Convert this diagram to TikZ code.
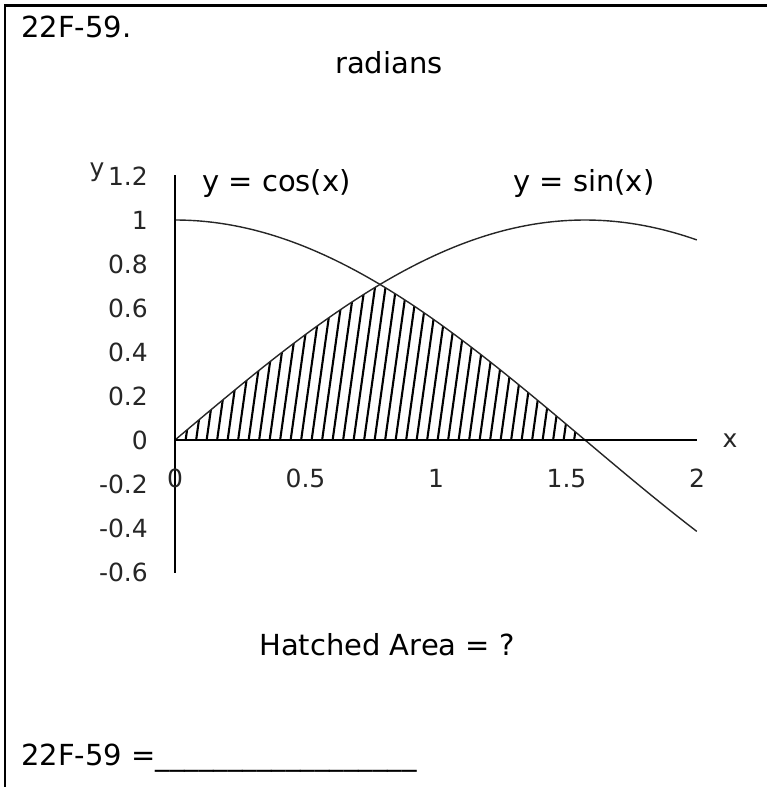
\documentclass[tikz,border=0pt]{standalone}
\usepackage{fontspec}
\setmainfont{DejaVu Sans}
\begin{document}
\begin{tikzpicture}[x=1pt,y=-1pt,
  bigtext/.style={font=\fontsize{29}{34}\selectfont, inner sep=0pt},
  ticktext/.style={font=\fontsize{25}{30}\selectfont, inner sep=0pt, black!85},
  axisline/.style={line width=2pt, black},
  curveline/.style={line width=1.4pt, black!85},
  hatchline/.style={line width=2.1pt, black},
  frameline/.style={line width=2.6pt, black}]
\useasboundingbox (0,0) rectangle (767,787);
% frame
\coordinate (tl) at (5,5.5);
\coordinate (tr) at (767,5.5);
\coordinate (bl) at (5,787);
\draw[frameline] (tr) -- (tl) -- (bl);
% texts
\node[bigtext, anchor=base west] (title) at (21,37) {22F-59.};
\node[bigtext, anchor=base] (radians) at (389,73) {radians};
\node[bigtext, anchor=base west] (coslabel) at (202,191) {y = cos(x)};
\node[bigtext, anchor=base west] (sinlabel) at (513,191) {y = sin(x)};
\node[bigtext, anchor=base] (question) at (387,655) {Hatched Area = ?};
\node[bigtext, anchor=base west] (answer) at (21,765) {22F-59 =\_\_\_\_\_\_\_\_\_\_\_\_\_\_\_\_\_\_};
% hatching
\begin{scope}
\clip plot[domain=0:0.785398, samples=40] ({175+261*\x},{440-220*sin(\x r)})
  -- plot[domain=0.785398:1.570796, samples=40] ({175+261*\x},{440-220*cos(\x r)}) -- cycle;
\foreach \i in {-5,...,40} \draw[hatchline] ({175+10.5*\i},441) -- ++(42,-300);
\end{scope}
% curves
\draw[curveline] plot[domain=0:2, samples=120, smooth] ({175+261*\x},{440-220*cos(\x r)});
\draw[curveline] plot[domain=0:2, samples=120, smooth] ({175+261*\x},{440-220*sin(\x r)});
% axes
\coordinate (O) at (175,440);
\coordinate (ytop) at (175,175);
\coordinate (ybot) at (175,573);
\coordinate (xend) at (697,440);
\draw[axisline] (ytop) -- (ybot);
\draw[axisline] (O) -- (xend);
% tick labels
\foreach \v/\t in {1.2/1.2, 1/1, 0.8/0.8, 0.6/0.6, 0.4/0.4, 0.2/0.2, 0/0, -0.2/-0.2, -0.4/-0.4, -0.6/-0.6}
  \node[ticktext, anchor=base east] at (148,{440-220*\v+9}) {\t};
\foreach \v in {0,0.5,1,1.5,2}
  \node[ticktext, anchor=base] at ({175+261*\v},487) {\v};
\node[ticktext, anchor=base] (ylab) at (97,176) {y};
\node[ticktext, anchor=base] (xlab) at (730,447) {x};
\end{tikzpicture}
\end{document}
